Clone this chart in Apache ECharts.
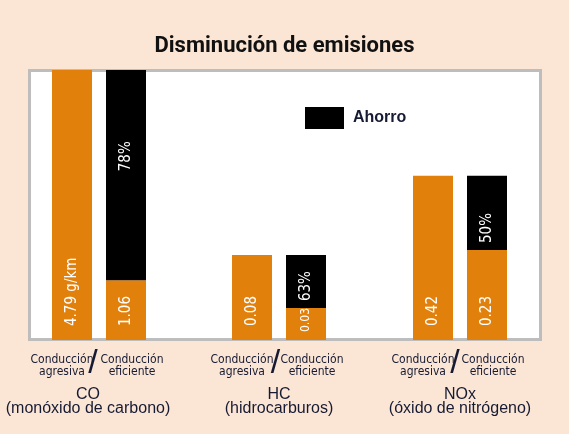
<!DOCTYPE html>
<html>
<head>
<meta charset="utf-8">
<script src="https://cdn.jsdelivr.net/npm/echarts@6/dist/echarts.min.js"></script>
<style>
	html, body { margin: 0; padding: 0; background: #fbe6d5; }
	#chart { width: 569px; height: 434px; }
</style>
</head>
<body>
<div id="chart"></div>
<script>
"use strict";

// data
const groups = ["CO\n(monóxido de carbono)", "HC\n(hidrocarburos)", "NOx\n(óxido de nitrógeno)"];
const categories = ["Conducción\nagresiva", "Conducción\neficiente"];
const aggressive = [4.79, 0.08, 0.42];
const efficient = [1.06, 0.03, 0.23];
const saving = [3.73, 0.05, 0.19];
const savingPct = [78, 63, 50];
const unit = "g/km";
// every group is drawn to its own scale
const groupMax = [4.79, 0.254, 0.69];

const ORANGE = "#e2800c";
const TEXT = "#161a33";
const NARROW = "'Liberation Sans Narrow', 'DejaVu Sans Condensed', sans-serif";

const gridLeft = [45, 225, 406];
const slashX = [93, 275.5, 455];

const grid = [], xAxis = [], yAxis = [], series = [];

groups.forEach((g, i) => {
	grid.push({ left: gridLeft[i], width: 108, top: 70, height: 270 });

	xAxis.push({
		type: "category",
		gridIndex: i,
		data: categories.map((c, j) => ({
			value: c,
			// pull the two captions towards the slash
			textStyle: { padding: j === 0 ? [0, 20, 0, 0] : [0, 0, 0, 12] }
		})),
		axisLine: { show: false },
		axisTick: { show: false },
		axisLabel: {
			interval: 0, hideOverlap: false,
			margin: 14, fontSize: 12, lineHeight: 12, color: TEXT, fontFamily: NARROW
		},
		name: g,
		nameLocation: "middle",
		nameGap: 48,
		nameTextStyle: {
			fontSize: 16, lineHeight: 14, color: TEXT, fontFamily: "'Liberation Sans', sans-serif",
			padding: i === 0 ? [0, 22, 0, 0] : 0
		}
	});

	yAxis.push({ type: "value", gridIndex: i, min: 0, max: groupMax[i], show: false });

	const valueLabel = {
		show: true, position: "insideBottom", distance: 14, rotate: 90,
		align: "left", verticalAlign: "middle",
		color: "#fff", fontSize: 15, fontFamily: NARROW
	};

	series.push({
		name: "Emisión",
		type: "bar",
		stack: "g" + i,
		xAxisIndex: i,
		yAxisIndex: i,
		barWidth: 40,
		itemStyle: { color: ORANGE },
		label: Object.assign({}, valueLabel, {
			formatter: (p) => p.dataIndex === 0 && i === 0 ? p.value + " " + unit : String(p.value)
		}),
		data: [aggressive[i], i === 1
			? { value: efficient[i], label: { fontSize: 12, distance: 8 } }
			: efficient[i]]
	});

	series.push({
		name: "Ahorro",
		type: "bar",
		stack: "g" + i,
		xAxisIndex: i,
		yAxisIndex: i,
		barWidth: 40,
		itemStyle: { color: "#000" },
		label: Object.assign({}, valueLabel, {
			distance: i === 0 ? 109 : 7,
			formatter: () => savingPct[i] + "%"
		}),
		data: ["-", saving[i]]
	});
});

const chart = echarts.init(document.getElementById("chart"));
chart.setOption({
	backgroundColor: "#fbe6d5",
	animation: false,
	title: {
		text: "Disminución de emisiones",
		left: "center",
		top: 30,
		textStyle: { fontSize: 22, fontWeight: "bold", color: "#111", fontFamily: "Roboto, sans-serif" }
	},
	legend: {
		data: ["Ahorro"],
		left: 305,
		top: 107,
		padding: 0,
		icon: "rect",
		itemWidth: 39,
		itemHeight: 22,
		selectedMode: false,
		textStyle: { fontSize: 16, fontWeight: "bold", color: TEXT, padding: [0, 0, 0, 4], fontFamily: "'Liberation Sans', sans-serif" }
	},
	graphic: [
		{
			type: "rect",
			z: -10,
			shape: { x: 29.5, y: 70.5, width: 511, height: 269 },
			style: { fill: "#fff", stroke: "#bdbdbd", lineWidth: 3 }
		}
	].concat(slashX.map((x) => ({
		type: "text",
		z: 10,
		x: x,
		y: 364,
		style: {
			text: "/", fontSize: 34, fill: TEXT,
			fontFamily: "'Liberation Sans', sans-serif",
			align: "center", verticalAlign: "middle"
		}
	}))),
	grid: grid,
	xAxis: xAxis,
	yAxis: yAxis,
	series: series
});
</script>
</body>
</html>
